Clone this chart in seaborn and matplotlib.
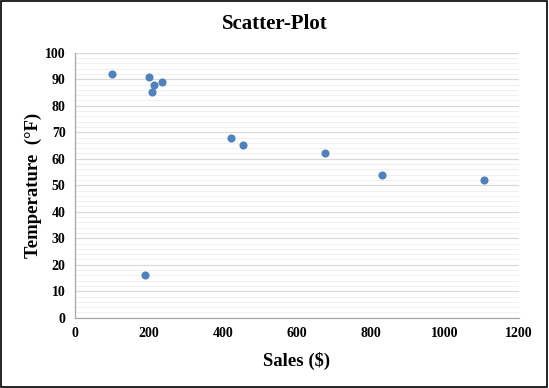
import matplotlib
matplotlib.use("Agg")
import matplotlib.pyplot as plt
import seaborn as sns
import pandas as pd
from matplotlib.ticker import MultipleLocator
from matplotlib.patches import Rectangle

sales = [100, 200, 214, 235, 208, 421, 455, 677, 829, 1107, 189]
temperature = [92, 91, 88, 89, 85, 68, 65, 62, 54, 52, 16]

df = pd.DataFrame({"Sales": sales, "Temperature": temperature})

sns.set_theme(style="white")
plt.rcParams['font.family'] = ['Liberation Serif', 'DejaVu Serif']
plt.rcParams['text.color'] = 'black'
plt.rcParams['axes.labelcolor'] = 'black'
plt.rcParams['xtick.color'] = 'black'
plt.rcParams['ytick.color'] = 'black'

fig = plt.figure(figsize=(5.49, 3.88), dpi=100)
ax = fig.add_axes([75.3/549, 1 - 317.7/388, (518.7-75.3)/549, (317.7-52.7)/388])

sns.scatterplot(data=df, x="Sales", y="Temperature", ax=ax, color="#4F81BD",
                s=34, edgecolor="#4F81BD", linewidth=0, zorder=3)

ax.set_xlim(0, 1200)
ax.set_ylim(0, 100)
ax.xaxis.set_major_locator(MultipleLocator(200))
ax.yaxis.set_major_locator(MultipleLocator(10))
ax.yaxis.set_minor_locator(MultipleLocator(2))
ax.grid(which="major", axis="y", color="#d9d9d9", linewidth=0.9, zorder=0)
ax.grid(which="minor", axis="y", color="#efefef", linewidth=0.7, zorder=0)
ax.set_axisbelow(True)

for s in ["top", "right"]:
    ax.spines[s].set_visible(False)
for s in ["left", "bottom"]:
    ax.spines[s].set_color("#a6a6a6")
    ax.spines[s].set_linewidth(0.9)

ax.tick_params(axis="both", which="major", direction="out", length=4, width=0.8,
               color="#a6a6a6", labelcolor="black", labelsize=10, pad=3)
ax.tick_params(axis="y", which="minor", length=0)
for lab in ax.get_xticklabels() + ax.get_yticklabels():
    lab.set_fontweight("bold")

ax.set_xlabel("Sales ($)", fontsize=13.5, fontweight="bold", labelpad=8)
ax.set_ylabel("Temperature  (°F)", fontsize=13.5, fontweight="bold", labelpad=2)
fig.text(0.5, 1 - 24/388, "Scatter-Plot", ha="center", va="center",
         fontsize=15, fontweight="bold")

fig.patches.append(Rectangle((0.001, 0.003), 0.996, 0.994, transform=fig.transFigure,
                             fill=False, edgecolor="black", linewidth=1.2))

fig.savefig("out.png", dpi=100)
